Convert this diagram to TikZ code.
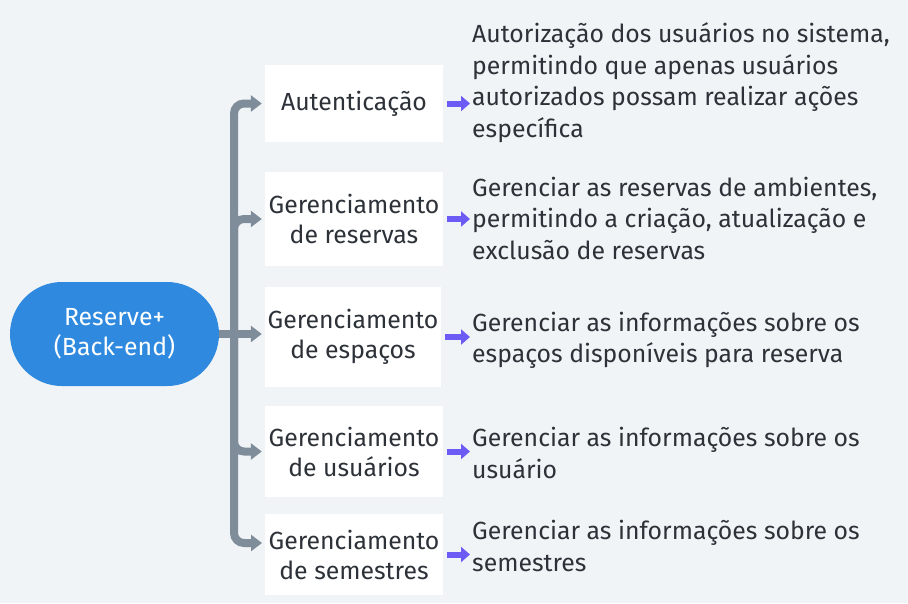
\documentclass[tikz,border=0pt]{standalone}
\usepackage{fontspec}
\setmainfont{Fira Sans}
\usepackage{tikz}
\usepackage{xcolor}
\usetikzlibrary{arrows.meta, positioning, calc}

\definecolor{bgGray}{HTML}{F1F4F7}
\definecolor{rootBlue}{HTML}{2F8ADF}
\definecolor{branchGray}{HTML}{7F8C99}
\definecolor{pointerPurple}{HTML}{6C5CF5}
\definecolor{textDark}{HTML}{2D3239}

\begin{document}
\begin{tikzpicture}[x=1pt, y=-1pt,
    every node/.style={font=\fontsize{24.8}{30}\selectfont, text=textDark},
    root/.style={fill=rootBlue, rounded corners=52pt, minimum width=209pt, minimum height=104pt, align=center, text=white},
    box/.style={fill=white, minimum width=178pt, align=center, inner sep=0pt},
    desc/.style={anchor=west, align=left, inner sep=0pt, font=\fontsize{24.8}{31.5}\selectfont},
    branch/.style={draw=branchGray, line width=8pt, rounded corners=10pt, -{Triangle[length=11pt, width=16pt]}, shorten >=3pt},
    pointer/.style={draw=pointerPurple, line width=6pt, -{Triangle[length=9pt, width=15pt]}, shorten <=4pt, shorten >=2pt}]
    % Background
    \fill[bgGray] (0,0) rectangle (908,603);
    \useasboundingbox (0,0) rectangle (908,603);

    % Root node
    \node[root] (root) at (114.5,334) {Reserve+\\(Back-end)};

    % Module boxes
    \node[box, minimum height=77pt] (b1) at (354,103.5) {Autenticação};
    \node[box, minimum height=94pt] (b2) at (354,219) {Gerenciamento\\de reservas};
    \node[box, minimum width=176pt, minimum height=100pt] (b3) at (353,337) {Gerenciamento\\de espaços};
    \node[box, minimum height=91pt] (b4) at (354,451.5) {Gerenciamento\\de usuários};
    \node[box, minimum height=81pt] (b5) at (354,554.5) {Gerenciamento\\de semestres};

    % Descriptions
    \node[desc] (d1) at (472,82.5) {Autorização dos usuários no sistema,\\permitindo que apenas usuários\\autorizados possam realizar ações\\específica};
    \node[desc] (d2) at (472,218) {Gerenciar as reservas de ambientes,\\permitindo a criação, atualização e\\exclusão de reservas};
    \node[desc] (d3) at (472,340.5) {Gerenciar as informações sobre os\\espaços disponíveis para reserva};
    \node[desc] (d4) at (472,453) {Gerenciar as informações sobre os\\usuário};
    \node[desc] (d5) at (472,546) {Gerenciar as informações sobre os\\semestres};

    % Trunk and branches
    \coordinate (trunk) at (234,334);
    \coordinate (b5in) at (265,543);
    \draw[branch] (root.east) -- (b3.west |- root.east);
    \foreach \b in {b1,b2,b4}
        \draw[branch] (trunk) |- (\b.west);
    \draw[branch] (trunk) |- (b5in);

    % Pointers to descriptions
    \foreach \i in {1,...,5}
        \draw[pointer] (b\i.east) -- (b\i.east -| d\i.west);
\end{tikzpicture}
\end{document}
